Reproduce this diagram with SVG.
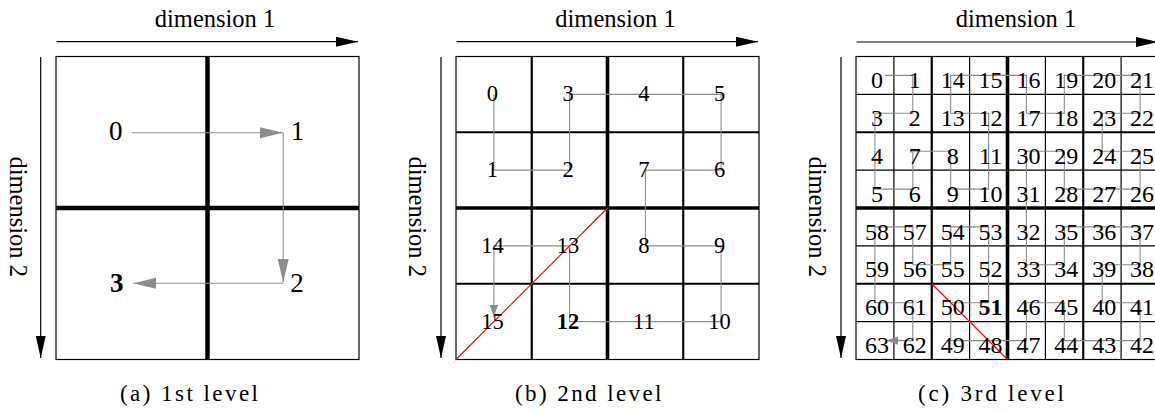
<svg xmlns="http://www.w3.org/2000/svg" width="1155" height="412" viewBox="0 0 1155 412" font-family="'Liberation Serif', 'DejaVu Serif', serif">
<style>
text{font-family:'Liberation Serif','DejaVu Serif',serif;fill:#000}
.ax{font-size:24.5px;text-anchor:middle}
.cap{font-size:23px}
.na{font-size:27px;text-anchor:middle}
.nb{font-size:22.5px;text-anchor:middle}
.nc{font-size:24px;text-anchor:middle}
.bold{font-weight:bold}
.axis{stroke:#000;stroke-width:1.2;fill:none;marker-end:url(#ahk)}
.border{fill:none;stroke:#000;stroke-width:1.2}
.g1{stroke:#000;stroke-width:1.2}
.g2{stroke:#000;stroke-width:2.2}
.g3{stroke:#000;stroke-width:3.6}
.g4{stroke:#000;stroke-width:4.5}
.path{fill:none;stroke:#8c8c8c;stroke-width:1.1}
.red{stroke:#f00;stroke-width:1.1}
</style>
<defs>
<marker id="ahk" markerUnits="userSpaceOnUse" markerWidth="23" markerHeight="10" refX="22" refY="5" orient="auto"><path d="M0,0 L22,5 L0,10 z" fill="#000"/></marker>
<marker id="aha" markerUnits="userSpaceOnUse" markerWidth="24" markerHeight="12" refX="23" refY="5.5" orient="auto"><path d="M0,0 L23,5.5 L0,11 z" fill="#8c8c8c"/></marker>
<marker id="ahs" markerUnits="userSpaceOnUse" markerWidth="13" markerHeight="9" refX="12" refY="4.2" orient="auto"><path d="M0,0 L12,4.2 L0,8.4 z" fill="#8c8c8c"/></marker>
</defs>

<!-- Panel (a) -->
<g id="panel-a">
<line class="axis" x1="56.5" y1="41.7" x2="358" y2="41.7"/>
<line class="axis" x1="40.7" y1="57" x2="40.7" y2="358"/>
<text class="ax" x="215" y="26.5">dimension 1</text>
<text class="ax" transform="translate(10,216.7) rotate(90)">dimension 2</text>
<rect class="border" x="56" y="56.5" width="303" height="303"/>
<line class="g4" x1="207.5" y1="56.5" x2="207.5" y2="359.5"/>
<line class="g4" x1="56" y1="208" x2="359" y2="208"/>
<text class="cap" x="120" y="401" textLength="138" lengthAdjust="spacing">(a) 1st level</text>
</g>
<g id="connectors-a">
<line class="path" x1="132" y1="132.7" x2="283" y2="132.7" marker-end="url(#aha)"/>
<line class="path" x1="283.2" y1="132.7" x2="283.2" y2="282" marker-end="url(#aha)"/>
<line class="path" x1="283.2" y1="283.3" x2="133.3" y2="283.3" marker-end="url(#aha)"/>
</g>
<g id="a-n0"><text class="na" x="115.8" y="140">0</text></g>
<g id="a-n1"><text class="na" x="297.5" y="140">1</text></g>
<g id="a-n2"><text class="na" x="297" y="292">2</text></g>
<g id="a-n3"><text class="na bold" x="116.7" y="291.5">3</text></g>

<!-- Panel (b) -->
<g id="panel-b">
<line class="axis" x1="456.5" y1="41.7" x2="758" y2="41.7"/>
<line class="axis" x1="441" y1="57" x2="441" y2="358"/>
<text class="ax" x="615.5" y="26.5">dimension 1</text>
<text class="ax" transform="translate(409,216.7) rotate(90)">dimension 2</text>
<rect class="border" x="456" y="56.5" width="303" height="303"/>
<line class="g2" x1="531.75" y1="56.5" x2="531.75" y2="359.5"/>
<line class="g2" x1="683.25" y1="56.5" x2="683.25" y2="359.5"/>
<line class="g2" x1="456" y1="132.25" x2="759" y2="132.25"/>
<line class="g2" x1="456" y1="283.75" x2="759" y2="283.75"/>
<line class="g3" x1="607.5" y1="56.5" x2="607.5" y2="359.5"/>
<line class="g3" x1="456" y1="208" x2="759" y2="208"/>
<text class="cap" x="515" y="401" textLength="146.5" lengthAdjust="spacing">(b) 2nd level</text>
</g>
<g id="connectors-b">
<polyline class="path" points="493.9,94.4 493.9,170.1 569.6,170.1 569.6,94.4 645.4,94.4 721.1,94.4 721.1,170.1 645.4,170.1 645.4,245.9 721.1,245.9 721.1,321.6 645.4,321.6 569.6,321.6 569.6,245.9 493.9,245.9 493.9,317" marker-end="url(#ahs)"/>
<line class="red" x1="456" y1="359.5" x2="607.5" y2="208"/>
</g>
<g id="b-n0"><text class="nb" x="492.4" y="101.4">0</text></g>
<g id="b-n1"><text class="nb" x="492.4" y="177.1">1</text></g>
<g id="b-n2"><text class="nb" x="568.1" y="177.1">2</text></g>
<g id="b-n3"><text class="nb" x="568.1" y="101.4">3</text></g>
<g id="b-n4"><text class="nb" x="643.9" y="101.4">4</text></g>
<g id="b-n5"><text class="nb" x="719.6" y="101.4">5</text></g>
<g id="b-n6"><text class="nb" x="719.6" y="177.1">6</text></g>
<g id="b-n7"><text class="nb" x="643.9" y="177.1">7</text></g>
<g id="b-n8"><text class="nb" x="643.9" y="252.9">8</text></g>
<g id="b-n9"><text class="nb" x="719.6" y="252.9">9</text></g>
<g id="b-n10"><text class="nb" x="719.6" y="328.6">10</text></g>
<g id="b-n11"><text class="nb" x="643.9" y="328.6">11</text></g>
<g id="b-n12"><text class="nb bold" x="568.1" y="328.6">12</text></g>
<g id="b-n13"><text class="nb" x="568.1" y="252.9">13</text></g>
<g id="b-n14"><text class="nb" x="492.4" y="252.9">14</text></g>
<g id="b-n15"><text class="nb" x="492.4" y="328.6">15</text></g>

<!-- Panel (c) -->
<g id="panel-c">
<line class="axis" x1="856.5" y1="42" x2="1158" y2="42"/>
<line class="axis" x1="841" y1="57" x2="841" y2="358"/>
<text class="ax" x="1016" y="26.5">dimension 1</text>
<text class="ax" transform="translate(809,216.7) rotate(90)">dimension 2</text>
<rect class="border" x="856" y="56.5" width="303" height="303"/>
<line class="g1" x1="893.9" y1="56.5" x2="893.9" y2="359.5"/>
<line class="g1" x1="969.6" y1="56.5" x2="969.6" y2="359.5"/>
<line class="g1" x1="1045.4" y1="56.5" x2="1045.4" y2="359.5"/>
<line class="g1" x1="1121.1" y1="56.5" x2="1121.1" y2="359.5"/>
<line class="g1" x1="856" y1="94.4" x2="1159" y2="94.4"/>
<line class="g1" x1="856" y1="170.1" x2="1159" y2="170.1"/>
<line class="g1" x1="856" y1="245.9" x2="1159" y2="245.9"/>
<line class="g1" x1="856" y1="321.6" x2="1159" y2="321.6"/>
<line class="g2" x1="931.75" y1="56.5" x2="931.75" y2="359.5"/>
<line class="g2" x1="1083.25" y1="56.5" x2="1083.25" y2="359.5"/>
<line class="g2" x1="856" y1="132.25" x2="1159" y2="132.25"/>
<line class="g2" x1="856" y1="283.75" x2="1159" y2="283.75"/>
<line class="g3" x1="1007.5" y1="56.5" x2="1007.5" y2="359.5"/>
<line class="g3" x1="856" y1="208" x2="1159" y2="208"/>
<text class="cap" x="918" y="401" textLength="146" lengthAdjust="spacing">(c) 3rd level</text>
</g>
<g id="connectors-c">
<polyline class="path" points="885,75.4 912.8,75.4 912.8,113.3 874.9,113.3 874.9,151.2 874.9,189.1 912.8,189.1 912.8,151.2 950.7,151.2 950.7,189.1 988.6,189.1 988.6,151.2 988.6,113.3 950.7,113.3 950.7,75.4 988.6,75.4 1026.4,75.4 1026.4,113.3 1064.3,113.3 1064.3,75.4 1102.2,75.4 1140.1,75.4 1140.1,113.3 1102.2,113.3 1102.2,151.2 1140.1,151.2 1140.1,189.1 1102.2,189.1 1064.3,189.1 1064.3,151.2 1026.4,151.2 1026.4,189.1 1026.4,226.9 1026.4,264.8 1064.3,264.8 1064.3,226.9 1102.2,226.9 1140.1,226.9 1140.1,264.8 1102.2,264.8 1102.2,302.7 1140.1,302.7 1140.1,340.6 1102.2,340.6 1064.3,340.6 1064.3,302.7 1026.4,302.7 1026.4,340.6 988.6,340.6 950.7,340.6 950.7,302.7 988.6,302.7 988.6,264.8 988.6,226.9 950.7,226.9 950.7,264.8 912.8,264.8 912.8,226.9 874.9,226.9 874.9,264.8 874.9,302.7 912.8,302.7 912.8,340.6 886,340.6" marker-end="url(#ahs)"/>
<line class="red" x1="931.75" y1="283.75" x2="1007.5" y2="359.5"/>
</g>
<g id="c-n0"><text class="nc" x="876.9" y="88">0</text></g>
<g id="c-n1"><text class="nc" x="914.8" y="88">1</text></g>
<g id="c-n14"><text class="nc" x="952.7" y="88">14</text></g>
<g id="c-n15"><text class="nc" x="990.6" y="88">15</text></g>
<g id="c-n16"><text class="nc" x="1028.4" y="88">16</text></g>
<g id="c-n19"><text class="nc" x="1066.3" y="88">19</text></g>
<g id="c-n20"><text class="nc" x="1104.2" y="88">20</text></g>
<g id="c-n21"><text class="nc" x="1142.1" y="88">21</text></g>
<g id="c-n3"><text class="nc" x="876.9" y="125.9">3</text></g>
<g id="c-n2"><text class="nc" x="914.8" y="125.9">2</text></g>
<g id="c-n13"><text class="nc" x="952.7" y="125.9">13</text></g>
<g id="c-n12"><text class="nc" x="990.6" y="125.9">12</text></g>
<g id="c-n17"><text class="nc" x="1028.4" y="125.9">17</text></g>
<g id="c-n18"><text class="nc" x="1066.3" y="125.9">18</text></g>
<g id="c-n23"><text class="nc" x="1104.2" y="125.9">23</text></g>
<g id="c-n22"><text class="nc" x="1142.1" y="125.9">22</text></g>
<g id="c-n4"><text class="nc" x="876.9" y="163.8">4</text></g>
<g id="c-n7"><text class="nc" x="914.8" y="163.8">7</text></g>
<g id="c-n8"><text class="nc" x="952.7" y="163.8">8</text></g>
<g id="c-n11"><text class="nc" x="990.6" y="163.8">11</text></g>
<g id="c-n30"><text class="nc" x="1028.4" y="163.8">30</text></g>
<g id="c-n29"><text class="nc" x="1066.3" y="163.8">29</text></g>
<g id="c-n24"><text class="nc" x="1104.2" y="163.8">24</text></g>
<g id="c-n25"><text class="nc" x="1142.1" y="163.8">25</text></g>
<g id="c-n5"><text class="nc" x="876.9" y="201.7">5</text></g>
<g id="c-n6"><text class="nc" x="914.8" y="201.7">6</text></g>
<g id="c-n9"><text class="nc" x="952.7" y="201.7">9</text></g>
<g id="c-n10"><text class="nc" x="990.6" y="201.7">10</text></g>
<g id="c-n31"><text class="nc" x="1028.4" y="201.7">31</text></g>
<g id="c-n28"><text class="nc" x="1066.3" y="201.7">28</text></g>
<g id="c-n27"><text class="nc" x="1104.2" y="201.7">27</text></g>
<g id="c-n26"><text class="nc" x="1142.1" y="201.7">26</text></g>
<g id="c-n58"><text class="nc" x="876.9" y="239.5">58</text></g>
<g id="c-n57"><text class="nc" x="914.8" y="239.5">57</text></g>
<g id="c-n54"><text class="nc" x="952.7" y="239.5">54</text></g>
<g id="c-n53"><text class="nc" x="990.6" y="239.5">53</text></g>
<g id="c-n32"><text class="nc" x="1028.4" y="239.5">32</text></g>
<g id="c-n35"><text class="nc" x="1066.3" y="239.5">35</text></g>
<g id="c-n36"><text class="nc" x="1104.2" y="239.5">36</text></g>
<g id="c-n37"><text class="nc" x="1142.1" y="239.5">37</text></g>
<g id="c-n59"><text class="nc" x="876.9" y="277.4">59</text></g>
<g id="c-n56"><text class="nc" x="914.8" y="277.4">56</text></g>
<g id="c-n55"><text class="nc" x="952.7" y="277.4">55</text></g>
<g id="c-n52"><text class="nc" x="990.6" y="277.4">52</text></g>
<g id="c-n33"><text class="nc" x="1028.4" y="277.4">33</text></g>
<g id="c-n34"><text class="nc" x="1066.3" y="277.4">34</text></g>
<g id="c-n39"><text class="nc" x="1104.2" y="277.4">39</text></g>
<g id="c-n38"><text class="nc" x="1142.1" y="277.4">38</text></g>
<g id="c-n60"><text class="nc" x="876.9" y="315.3">60</text></g>
<g id="c-n61"><text class="nc" x="914.8" y="315.3">61</text></g>
<g id="c-n50"><text class="nc" x="952.7" y="315.3">50</text></g>
<g id="c-n51"><text class="nc bold" x="990.6" y="315.3">51</text></g>
<g id="c-n46"><text class="nc" x="1028.4" y="315.3">46</text></g>
<g id="c-n45"><text class="nc" x="1066.3" y="315.3">45</text></g>
<g id="c-n40"><text class="nc" x="1104.2" y="315.3">40</text></g>
<g id="c-n41"><text class="nc" x="1142.1" y="315.3">41</text></g>
<g id="c-n63"><text class="nc" x="876.9" y="353.2">63</text></g>
<g id="c-n62"><text class="nc" x="914.8" y="353.2">62</text></g>
<g id="c-n49"><text class="nc" x="952.7" y="353.2">49</text></g>
<g id="c-n48"><text class="nc" x="990.6" y="353.2">48</text></g>
<g id="c-n47"><text class="nc" x="1028.4" y="353.2">47</text></g>
<g id="c-n44"><text class="nc" x="1066.3" y="353.2">44</text></g>
<g id="c-n43"><text class="nc" x="1104.2" y="353.2">43</text></g>
<g id="c-n42"><text class="nc" x="1142.1" y="353.2">42</text></g>
</svg>
